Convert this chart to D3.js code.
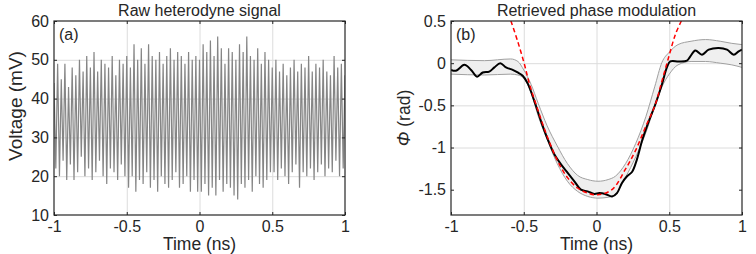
<!DOCTYPE html>
<html>
<head>
<meta charset="utf-8">
<script src="https://cdn.jsdelivr.net/npm/d3@7"></script>
<style>
  body { margin: 0; background: #fff; }
  svg { font-family: "Liberation Sans", Arial, sans-serif; }
  .tickLabel text { fill: #262626; font-size: 16px; }
  .tickLabel path, .tickLabel line { display: none; }
  .grid line { stroke: #dcdcdc; stroke-width: 1; }
  .grid path, .grid text { display: none; }
  .tickMark line { stroke: #262626; stroke-width: 1; }
  .tickMark path, .tickMark text { display: none; }
</style>
</head>
<body>
<script>
//page size
var w = 756, h = 254;

//raw heterodyne signal: peak and trough voltages (mV), one pair per period
var rawPeaks = [44,49,45,49,43,48,46,50,47,51,48,52,47,50,49,48,51,46,50,49,
                51,48,54,50,53,49,54,51,50,52,49,51,53,50,52,51,49,52,50,51,
                50,54,52,55,51,56,53,49,53,52,50,54,52,56,51,50,53,49,52,50,
                48,50,47,49,46,48,50,47,49,48,51,47,49,48,50,47,46,51,48,49];
var rawTroughs = [22,20,24,19,23,19,21,25,20,22,19,21,24,20,18,22,21,19,23,20,
                  17,20,16,19,18,21,17,19,16,20,18,17,19,21,17,18,20,16,19,16,
                  16,18,15,17,15,19,16,18,17,15,14,18,17,19,16,20,18,17,19,21,
                  21,19,22,20,18,21,23,17,21,20,22,19,21,23,20,22,21,24,20,22];
var rawStart = -1, rawStep = 0.0125; //ns between samples

//retrieved phase (rad) vs time (ns)
var phaseT = [-1,-0.966,-0.908,-0.862,-0.821,-0.782,-0.737,-0.702,-0.661,-0.622,
              -0.576,-0.542,-0.507,-0.473,-0.427,-0.381,-0.336,-0.290,-0.244,-0.198,
              -0.152,-0.107,-0.061,-0.015,0.02,0.06,0.107,0.141,0.175,0.210,
              0.244,0.278,0.313,0.359,0.404,0.450,0.484,0.507,0.565,0.622,
              0.645,0.679,0.725,0.771,0.840,0.897,0.943,0.977,1.0];
var phaseV = [-0.08,-0.09,-0.02,-0.08,-0.16,-0.11,-0.10,-0.05,0.00,-0.05,
              -0.08,-0.11,-0.15,-0.24,-0.45,-0.69,-0.90,-1.08,-1.20,-1.30,
              -1.40,-1.50,-1.52,-1.55,-1.54,-1.55,-1.58,-1.54,-1.42,-1.34,
              -1.29,-1.14,-0.92,-0.69,-0.49,-0.25,-0.05,0.02,0.02,0.03,
              0.08,0.15,0.10,0.16,0.18,0.16,0.10,0.14,0.16];

//uncertainty band (upper / lower edge)
var bandT = [-1,-0.77,-0.59,-0.54,-0.50,-0.45,-0.40,-0.34,-0.27,-0.20,-0.13,-0.06,0.01,
             0.08,0.13,0.20,0.27,0.34,0.40,0.45,0.50,0.56,0.65,0.75,0.85,0.93,1.0];
var bandUp = [0.04,0.03,0.05,0.02,-0.08,-0.25,-0.48,-0.74,-0.98,-1.19,-1.33,-1.38,-1.40,
              -1.38,-1.34,-1.19,-0.95,-0.63,-0.28,0.01,0.13,0.22,0.26,0.28,0.26,0.235,0.22];
var bandLo = [-0.13,-0.14,-0.13,-0.14,-0.18,-0.35,-0.63,-0.90,-1.19,-1.40,-1.52,-1.58,-1.60,
              -1.59,-1.55,-1.35,-1.11,-0.82,-0.51,-0.28,-0.13,-0.02,0.02,0.02,0.00,-0.02,-0.05];

//quadratic fit (red dashed)
var fitT = [-0.588,-0.542,-0.496,-0.46,-0.40,-0.336,-0.267,-0.198,-0.13,-0.06,0.008,
            0.106,0.198,0.267,0.336,0.404,0.45,0.496,0.542,0.583];
var fitV = [0.5,0.26,-0.01,-0.25,-0.57,-0.88,-1.16,-1.36,-1.48,-1.54,-1.56,
            -1.50,-1.26,-1.04,-0.76,-0.49,-0.21,0.07,0.34,0.5];

//tick values
var timeTicks = [-1,-0.5,0,0.5,1];
var voltTicks = [10,20,30,40,50,60];
var phaseTicks = [-1.5,-1,-0.5,0,0.5];

window.onload = function(){

    var svg = d3.select("body").append("svg")
        .attr("width", w)
        .attr("height", h);

    //grid, clip and tick labels of one panel, returns the plot group and scales
    function makePanel(left, yDomain, yTicks, title, tag, id){
        var top = 21, pw = 291, ph = 194;
        var x = d3.scaleLinear().domain([-1, 1]).range([left, left + pw]);
        var y = d3.scaleLinear().domain(yDomain).range([top + ph, top]);
        var fmt = function(d){ return String(d); };

        svg.append("g").attr("class", "grid")
            .attr("transform", "translate(0," + (top + ph) + ")")
            .call(d3.axisBottom(x).tickValues(timeTicks.slice(1, -1)).tickSize(-ph));
        svg.append("g").attr("class", "grid")
            .attr("transform", "translate(" + left + ",0)")
            .call(d3.axisLeft(y).tickValues(yTicks.slice(1, -1)).tickSize(-pw));

        svg.append("clipPath").attr("id", id)
            .append("rect")
            .attr("x", left).attr("y", top)
            .attr("width", pw).attr("height", ph);

        var plot = svg.append("g").attr("clip-path", "url(#" + id + ")");

        //tick labels
        svg.append("g").attr("class", "tickLabel")
            .attr("transform", "translate(0," + (top + ph) + ")")
            .call(d3.axisBottom(x).tickValues(timeTicks).tickFormat(fmt).tickSize(0).tickPadding(6));
        svg.append("g").attr("class", "tickLabel")
            .attr("transform", "translate(" + left + ",0)")
            .call(d3.axisLeft(y).tickValues(yTicks).tickFormat(fmt).tickSize(0).tickPadding(5));

        return {x: x, y: y, plot: plot, left: left, top: top, pw: pw, ph: ph,
                title: title, tag: tag, yTicks: yTicks};
    }

    //frame, inward tick marks and texts on top of the data
    function finishPanel(p){
        svg.append("g").attr("class", "tickMark")
            .attr("transform", "translate(0," + (p.top + p.ph) + ")")
            .call(d3.axisBottom(p.x).tickValues(timeTicks).tickSize(-3));
        svg.append("g").attr("class", "tickMark")
            .attr("transform", "translate(0," + p.top + ")")
            .call(d3.axisTop(p.x).tickValues(timeTicks).tickSize(-3));
        svg.append("g").attr("class", "tickMark")
            .attr("transform", "translate(" + p.left + ",0)")
            .call(d3.axisLeft(p.y).tickValues(p.yTicks).tickSize(-3));
        svg.append("g").attr("class", "tickMark")
            .attr("transform", "translate(" + (p.left + p.pw) + ",0)")
            .call(d3.axisRight(p.y).tickValues(p.yTicks).tickSize(-3));

        svg.append("rect")
            .attr("x", p.left).attr("y", p.top)
            .attr("width", p.pw).attr("height", p.ph)
            .style("fill", "none")
            .style("stroke", "#262626")
            .style("stroke-width", 1.2);

        svg.append("text")
            .attr("x", p.left + p.pw / 2).attr("y", 16)
            .attr("text-anchor", "middle")
            .style("font-size", "16px").style("fill", "#262626")
            .text(p.title);

        svg.append("text")
            .attr("x", p.left + p.pw / 2).attr("y", 250)
            .attr("text-anchor", "middle")
            .style("font-size", "17.5px").style("fill", "#262626")
            .text("Time (ns)");

        svg.append("text")
            .attr("x", p.left + 5).attr("y", 40)
            .style("font-size", "16px").style("fill", "#262626")
            .text(p.tag);
    }

    //(a) raw signal
    var pa = makePanel(54, [10, 60], voltTicks, "Raw heterodyne signal", "(a)", "clipA");

    var rawData = [];
    rawPeaks.forEach(function(v, i){
        rawData.push([rawStart + (2 * i) * rawStep, v]);
        rawData.push([rawStart + (2 * i + 1) * rawStep, rawTroughs[i]]);
    });
    rawData.push([1, 46]);

    pa.plot.append("path")
        .datum(rawData)
        .attr("d", d3.line()
            .x(function(d){ return pa.x(d[0]); })
            .y(function(d){ return pa.y(d[1]); }))
        .style("fill", "none")
        .style("stroke", "#858585")
        .style("stroke-width", 1.2);

    finishPanel(pa);

    svg.append("text")
        .attr("transform", "translate(22,106) rotate(-90)")
        .attr("text-anchor", "middle")
        .style("font-size", "19px").style("fill", "#262626")
        .text("Voltage (mV)");

    //(b) retrieved phase
    var pb = makePanel(451, [-1.8, 0.5], phaseTicks, "Retrieved phase modulation", "(b)", "clipB");

    pb.plot.append("path")
        .datum(bandT)
        .attr("d", d3.area()
            .curve(d3.curveMonotoneX)
            .x(function(d){ return pb.x(d); })
            .y0(function(d, i){ return pb.y(bandLo[i]); })
            .y1(function(d, i){ return pb.y(bandUp[i]); }))
        .style("fill", "#efefef");

    [bandUp, bandLo].forEach(function(edge){
        pb.plot.append("path")
            .datum(bandT)
            .attr("d", d3.line()
                .curve(d3.curveMonotoneX)
                .x(function(d){ return pb.x(d); })
                .y(function(d, i){ return pb.y(edge[i]); }))
            .style("fill", "none")
            .style("stroke", "#a0a0a0")
            .style("stroke-width", 1);
    });

    pb.plot.append("path")
        .datum(phaseT)
        .attr("d", d3.line()
            .curve(d3.curveCatmullRom)
            .x(function(d){ return pb.x(d); })
            .y(function(d, i){ return pb.y(phaseV[i]); }))
        .style("fill", "none")
        .style("stroke", "#000")
        .style("stroke-width", 2);

    pb.plot.append("path")
        .datum(fitT)
        .attr("d", d3.line()
            .curve(d3.curveCatmullRom)
            .x(function(d){ return pb.x(d); })
            .y(function(d, i){ return pb.y(fitV[i]); }))
        .style("fill", "none")
        .style("stroke", "#ff0000")
        .style("stroke-width", 1.5)
        .style("stroke-dasharray", "4.5,3");

    finishPanel(pb);

    var phiLabel = svg.append("text")
        .attr("transform", "translate(410," + (pb.top + pb.ph / 2) + ") rotate(-90)")
        .attr("text-anchor", "middle")
        .style("font-size", "17.5px").style("fill", "#262626");
    phiLabel.append("tspan").style("font-style", "italic").text("Φ");
    phiLabel.append("tspan").text(" (rad)");
};
</script>
</body>
</html>
